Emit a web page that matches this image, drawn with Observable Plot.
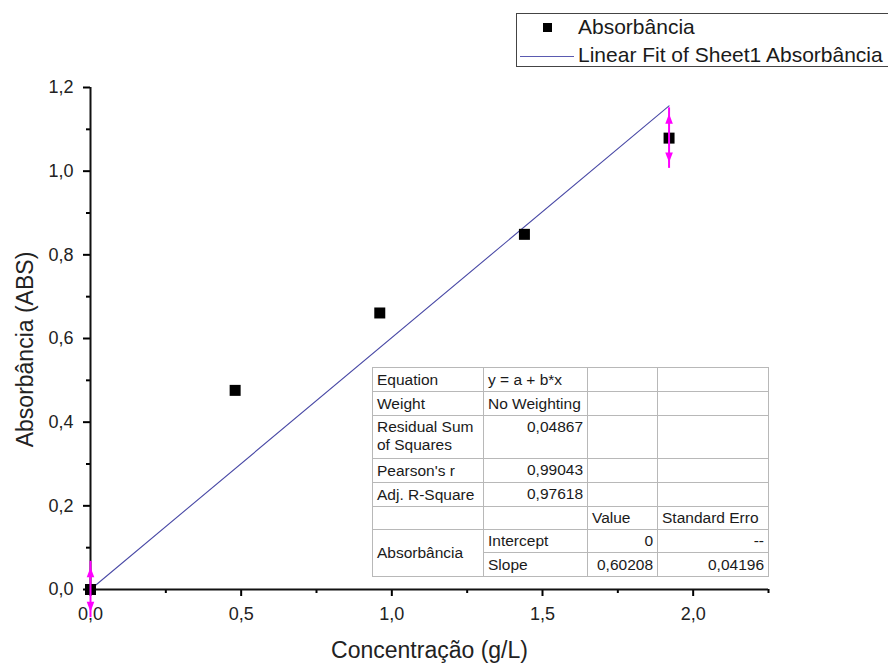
<!DOCTYPE html>
<html>
<head>
<meta charset="utf-8">
<script src="https://cdn.jsdelivr.net/npm/d3@7"></script>
<script src="https://cdn.jsdelivr.net/npm/@observablehq/plot@0.6"></script>
<style>
  html, body { margin: 0; padding: 0; background: #fff; overflow: hidden; }
  #wrap { position: relative; width: 888px; height: 665px; font-family: "Liberation Sans", Arial, sans-serif; }
  #legend { position: absolute; left: 516px; top: 13px; width: 400px; height: 54px; border: 1.3px solid #444; background: #fff; box-sizing: border-box; }
  #legend .row { position: absolute; height: 24px; font-size: 21px; line-height: 24px; color: #1a1a1a; white-space: nowrap; }
  #legend .sq { position: absolute; width: 9px; height: 9px; background: #000; }
  #legend .ln { position: absolute; height: 0; border-top: 1.3px solid #5a5ab0; }
  #fit { position: absolute; left: 372px; top: 367px; border-collapse: collapse; font-size: 15.5px; color: #1a1a1a; background: #fff; border: 1.6px solid #444; table-layout: fixed; }
  #fit td { border: 1px solid #b8b8b8; padding: 0 4px; vertical-align: middle; line-height: 18px; white-space: nowrap; overflow: hidden; }
  #fit td.r { text-align: right; }
  #fit td.t { vertical-align: top; padding-top: 2px; }
</style>
</head>
<body>
<div id="wrap"></div>
<script>
// Data
const concentracao = [0, 0.48, 0.96, 1.44, 1.92];
const absorbancia = [0, 0.476, 0.661, 0.849, 1.079];
const erro = [0.053, 0, 0, 0, 0.058];
const slope = 0.60208;
const fitX = [0, 1.92];
const xTicks = [0, 0.5, 1.0, 1.5, 2.0];
const xMinor = [0.25, 0.75, 1.25, 1.75, 2.25];
const yTicks = [0, 0.2, 0.4, 0.6, 0.8, 1.0, 1.2];
const yMinor = [0.1, 0.3, 0.5, 0.7, 0.9, 1.1];
const tableRows = [
  ["Equation", "y = a + b*x", "", ""],
  ["Weight", "No Weighting", "", ""],
  ["Residual Sum<br>of Squares", "0,04867", "", ""],
  ["Pearson's r", "0,99043", "", ""],
  ["Adj. R-Square", "0,97618", "", ""]
];
const paramHeader = ["", "", "Value", "Standard Erro"];
const paramRows = [
  ["Absorbância", "Intercept", "0", "--"],
  ["", "Slope", "0,60208", "0,04196"]
];

const fmt = d => d.toFixed(1).replace(".", ",");
const pts = concentracao.map((x, i) => ({x, y: absorbancia[i], e: erro[i]}));
const errPts = pts.filter(d => d.e > 0);
const fit = fitX.map(x => ({x, y: slope * x}));
const fitColor = "#4a4aa6";
const magenta = "#ff00ff";

// filled arrowheads with the tip at the anchor point
const headUp = {draw(ctx) { ctx.moveTo(0, 0); ctx.lineTo(3.8, 10); ctx.lineTo(-3.8, 10); ctx.closePath(); }};
const headDown = {draw(ctx) { ctx.moveTo(0, 0); ctx.lineTo(3.8, -10); ctx.lineTo(-3.8, -10); ctx.closePath(); }};

const chart = Plot.plot({
  width: 888,
  height: 665,
  marginLeft: 90,
  marginRight: 120,
  marginTop: 87,
  marginBottom: 76,
  style: {fontFamily: "Liberation Sans, Arial, sans-serif", background: "#fff", overflow: "visible"},
  x: {domain: [0, 2.25]},
  y: {domain: [0, 1.2]},
  marks: [
    Plot.axisX(xMinor, {tickSize: 4, text: null, stroke: "#000", strokeWidth: 2, strokeOpacity: 1, label: null}),
    Plot.axisX(xTicks, {tickSize: 7, tickPadding: 11, tickFormat: fmt, fontSize: 18, fill: "#222", stroke: "#000", strokeWidth: 2, strokeOpacity: 1, label: null}),
    Plot.axisY(yMinor, {tickSize: 4, text: null, stroke: "#000", strokeWidth: 2, strokeOpacity: 1, label: null}),
    Plot.axisY(yTicks, {tickSize: 7, tickPadding: 10, tickFormat: fmt, fontSize: 18, fill: "#222", stroke: "#000", strokeWidth: 2, strokeOpacity: 1, label: null}),
    Plot.ruleY([0], {stroke: "#111", strokeWidth: 2}),
    Plot.ruleX([0], {stroke: "#111", strokeWidth: 2}),
    Plot.line(fit, {x: "x", y: "y", stroke: fitColor, strokeWidth: 1.1}),
    Plot.dot(pts, {x: "x", y: "y", symbol: "square", r: 6.2, fill: "#000", stroke: "none"}),
    Plot.ruleX(errPts, {x: "x", y1: d => d.y - d.e, y2: d => d.y + d.e, stroke: magenta, strokeWidth: 2, insetTop: 6, insetBottom: 6}),
    Plot.dot(errPts, {x: "x", y: d => d.y + d.e, symbol: headUp, fill: magenta, stroke: "none"}),
    Plot.dot(errPts, {x: "x", y: d => d.y - d.e, symbol: headDown, fill: magenta, stroke: "none"}),
    Plot.text(["Concentração (g/L)"], {frameAnchor: "bottom", textAnchor: "middle", lineAnchor: "middle", dy: 61, fontSize: 23, fill: "#222"}),
    Plot.text(["Absorbância (ABS)"], {frameAnchor: "left", textAnchor: "middle", lineAnchor: "middle", dx: -65, dy: 11, rotate: -90, fontSize: 23, fill: "#222"})
  ]
});

const wrap = document.getElementById("wrap");
wrap.appendChild(chart);

// Legend
const legend = document.createElement("div");
legend.id = "legend";
legend.innerHTML =
  `<div class="sq" style="left:26px;top:9px"></div>` +
  `<div class="row" style="left:61px;top:1px">Absorbância</div>` +
  `<div class="ln" style="left:3px;width:54px;top:42px"></div>` +
  `<div class="row" style="left:61px;top:29px">Linear Fit of Sheet1 Absorbância</div>`;
wrap.appendChild(legend);

// Fit table
const table = document.createElement("table");
table.id = "fit";
const widths = [111, 104, 70, 111];
let html = "<colgroup>" + widths.map(w => `<col style="width:${w}px">`).join("") + "</colgroup>";
tableRows.forEach((r, i) => {
  const h = i === 2 ? 43 : 24;
  const c0 = i === 2 ? "t" : "";
  const c1 = i < 2 ? "" : "r t";
  html += `<tr style="height:${h}px"><td class="${c0}">${r[0]}</td><td class="${c1}">${r[1]}</td><td>${r[2]}</td><td>${r[3]}</td></tr>`;
});
html += `<tr style="height:23px">${paramHeader.map(c => `<td>${c}</td>`).join("")}</tr>`;
html += `<tr style="height:23px"><td rowspan="2">${paramRows[0][0]}</td><td>${paramRows[0][1]}</td><td class="r">${paramRows[0][2]}</td><td class="r">${paramRows[0][3]}</td></tr>`;
html += `<tr style="height:24px"><td>${paramRows[1][1]}</td><td class="r">${paramRows[1][2]}</td><td class="r">${paramRows[1][3]}</td></tr>`;
table.innerHTML = html;
table.style.width = "396px";
wrap.appendChild(table);
</script>
</body>
</html>
